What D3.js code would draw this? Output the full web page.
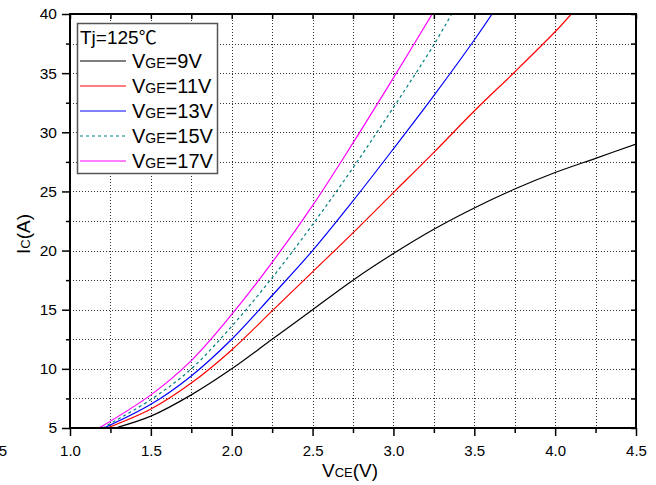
<!DOCTYPE html>
<html><head><meta charset="utf-8">
<script src="https://cdn.jsdelivr.net/npm/d3@7"></script>
<style>body{margin:0;background:#fff} text{font-family:Arial,"Liberation Sans",sans-serif;fill:#000}</style>
</head><body><svg id="c" width="656" height="485"></svg>
<script>
// ---- data ----
const xTicks=[1.0,1.5,2.0,2.5,3.0,3.5,4.0,4.5];
const yTicks=[5,10,15,20,25,30,35,40];
const legendLabels=["=9V","=11V","=13V","=15V","=17V"];
const vge9=[[1.28,5],[1.5,6.0],[1.75,7.8],[2.0,10.0],[2.25,12.5],[2.5,15.0],[2.75,17.5],[3.0,19.75],[3.25,21.8],[3.5,23.6],[3.75,25.2],[4.0,26.6],[4.25,27.8],[4.5,29.0]];
const vge11=[[1.23,5],[1.5,6.6],[1.75,8.8],[2.0,11.6],[2.25,14.9],[2.5,18.2],[2.75,21.5],[3.0,24.9],[3.25,28.3],[3.5,31.8],[3.75,35.1],[4.0,38.5],[4.1,40]];
const vge13=[[1.21,5],[1.5,7.0],[1.75,9.4],[2.0,12.5],[2.25,16.2],[2.5,20.0],[2.75,24.2],[3.0,28.6],[3.25,33.1],[3.5,37.8],[3.61,40]];
const vge15=[[1.20,5],[1.5,7.4],[1.75,10.0],[2.0,13.6],[2.25,17.7],[2.5,22.2],[2.75,27.0],[3.0,32.1],[3.25,37.4],[3.36,40]];
const vge17=[[1.18,5],[1.5,7.8],[1.75,10.7],[2.0,14.6],[2.25,19.0],[2.5,23.8],[2.75,29.1],[3.0,34.6],[3.24,40]];

const series=[
 {d:vge9,c:"#000000",dash:null},
 {d:vge11,c:"#ff0000",dash:null},
 {d:vge13,c:"#0000ff",dash:null},
 {d:vge15,c:"#008080",dash:"3,3"},
 {d:vge17,c:"#ff00ff",dash:null}
];

const svg=d3.select("#c");
const L=70,R=636,T=14,B=428;
const x=d3.scaleLinear().domain([1,4.5]).range([L,R]);
const y=d3.scaleLinear().domain([5,40]).range([B,T]);

// grid
const gx=d3.range(1.25,4.5,0.25);
const gy=d3.range(7.5,40,2.5);
svg.append("g").selectAll("line").data(gx).join("line")
 .attr("x1",d=>Math.round(x(d))+0.5).attr("x2",d=>Math.round(x(d))+0.5)
 .attr("y1",T).attr("y2",B).attr("stroke","#333").attr("stroke-width",1).attr("stroke-dasharray","1,2");
svg.append("g").selectAll("line").data(gy).join("line")
 .attr("y1",d=>Math.round(y(d))+0.5).attr("y2",d=>Math.round(y(d))+0.5)
 .attr("x1",L).attr("x2",R).attr("stroke","#333").attr("stroke-width",1).attr("stroke-dasharray","1,2");

// clip
svg.append("clipPath").attr("id","pc").append("rect").attr("x",L).attr("y",T).attr("width",R-L).attr("height",B-T);

const line=d3.line().x(d=>x(d[0])).y(d=>y(d[1])).curve(d3.curveCatmullRom.alpha(0.5));
svg.append("g").attr("clip-path","url(#pc)").selectAll("path").data(series).join("path")
 .attr("d",s=>line(s.d)).attr("fill","none").attr("stroke",s=>s.c).attr("stroke-width",1.2)
 .attr("stroke-dasharray",s=>s.dash);

// axes
const minorX=d3.range(1.25,4.5,0.5);
const minorY=d3.range(7.5,40,5);
const bottom=svg.append("g").attr("transform",`translate(0,${B})`)
 .call(d3.axisBottom(x).tickValues(xTicks).tickFormat(d3.format(".1f")).tickSize(8).tickSizeOuter(0));
const left=svg.append("g").attr("transform",`translate(${L},0)`)
 .call(d3.axisLeft(y).tickValues(yTicks).tickFormat(d3.format("d")).tickSize(8).tickSizeOuter(0));
svg.append("g").attr("transform",`translate(0,${B})`)
 .call(d3.axisBottom(x).tickValues(minorX).tickFormat("").tickSize(5).tickSizeOuter(0));
svg.append("g").attr("transform",`translate(${L},0)`)
 .call(d3.axisLeft(y).tickValues(minorY).tickFormat("").tickSize(4).tickSizeOuter(0));
svg.append("g").attr("transform",`translate(${R},0)`)
 .call(d3.axisLeft(y).tickValues(yTicks.concat(minorY)).tickFormat("").tickSize(5).tickSizeOuter(0));
svg.append("g").attr("transform",`translate(0,${T})`)
 .call(d3.axisBottom(x).tickValues(xTicks.concat(minorX)).tickFormat("").tickSize(5).tickSizeOuter(0));
svg.selectAll(".domain").attr("stroke","none");
svg.selectAll(".tick line").attr("stroke","#000").attr("stroke-width",1.5);
bottom.selectAll("text").attr("font-size",15).attr("font-family","Arial, Liberation Sans, sans-serif").attr("dy","1.1em");
left.selectAll("text").attr("font-size",15.5).attr("font-family","Arial, Liberation Sans, sans-serif").attr("dx","-2");
// partially visible 0.5 label at the left edge, as in the reference
svg.append("text").attr("x",7).attr("y",456).attr("font-size",15).attr("text-anchor","end").text("0.5");

// frame
svg.append("rect").attr("x",L).attr("y",T).attr("width",R-L).attr("height",B-T)
 .attr("fill","none").attr("stroke","#000").attr("stroke-width",2);

// axis titles
const xt=svg.append("text").attr("x",350).attr("y",477).attr("text-anchor","middle").attr("font-size",19);
xt.append("tspan").text("V");
xt.append("tspan").attr("font-size",13).text("CE");
xt.append("tspan").text("(V)");
const yt=svg.append("text").attr("transform","translate(30,234) rotate(-90)").attr("text-anchor","middle").attr("font-size",19);
yt.append("tspan").text("I");
yt.append("tspan").attr("font-size",13).text("C");
yt.append("tspan").text("(A)");

// legend
const lg=svg.append("g");
lg.append("rect").attr("x",77.5).attr("y",23.5).attr("width",140).attr("height",150)
 .attr("fill","#fff").attr("stroke","#555").attr("stroke-width",1.5);
const tt=lg.append("text").attr("x",80).attr("y",44).attr("font-size",19);
tt.append("tspan").text("Tj=125");
tt.append("tspan").attr("font-family","Noto Sans CJK SC").attr("font-size",18).text("℃");
series.forEach((s,i)=>{
  const yy=61+i*25;
  lg.append("line").attr("x1",80).attr("x2",126).attr("y1",yy).attr("y2",yy)
    .attr("stroke",s.c).attr("stroke-width",1.2).attr("stroke-dasharray",s.dash);
  const t=lg.append("text").attr("x",132).attr("y",yy+7).attr("font-size",20);
  t.append("tspan").text("V");
  t.append("tspan").attr("font-size",14).text("GE");
  t.append("tspan").text(legendLabels[i]);
});
</script></body></html>
